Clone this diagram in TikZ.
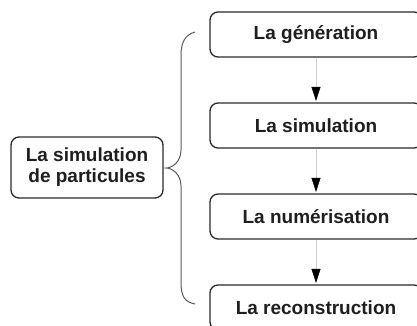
\documentclass[tikz,border=0pt]{standalone}
\usepackage{fontspec}
\setmainfont{Liberation Sans}
\usetikzlibrary{arrows.meta}
\definecolor{boxline}{HTML}{2A2A2A}
\definecolor{txt}{HTML}{1E1E1E}
\definecolor{braceline}{HTML}{5A5A5A}
\definecolor{linkline}{HTML}{CFCFCF}
\tikzset{
  stepbox/.style={draw=boxline, line width=1.3pt, rounded corners=8pt,
    minimum width=212pt, minimum height=45pt, inner sep=0pt,
    text=txt, font=\fontsize{19}{21}\selectfont\bfseries},
  mainbox/.style={draw=boxline, line width=1.3pt, rounded corners=8pt,
    minimum width=152pt, minimum height=61pt, inner sep=0pt, align=center,
    text=txt, font=\fontsize{19}{21}\selectfont\bfseries},
  link/.style={draw=linkline, line width=0.5pt,
    -{Triangle[length=14pt,width=9pt,color=black,fill=black]}, shorten >=1.5pt},
  bracestyle/.style={draw=braceline, line width=1pt}
}
\begin{document}
\begin{tikzpicture}[x=1pt,y=-1pt]
\useasboundingbox (0,0) rectangle (417,325);
\clip (0,0) rectangle (417,325);
\fill[white] (0,0) rectangle (417,325);
\node[mainbox] (main) at (87,167.5) {La simulation\\de particules};
\node[stepbox] (gen) at (316,34.5) {La génération};
\node[stepbox] (sim) at (316,125.5) {La simulation};
\node[stepbox] (num) at (316,216.5) {La numérisation};
\node[stepbox] (rec) at (316,307.5) {La reconstruction};
\draw[link] (gen) -- (sim);
\draw[link] (sim) -- (num);
\draw[link] (num) -- (rec);
\draw[bracestyle] (195,32) .. controls (185,35) and (181,42) .. (181,56)
  -- (181,150) .. controls (181,162) and (172,168) .. (166,168)
  .. controls (172,168) and (181,174) .. (181,186)
  -- (181,282) .. controls (181,297) and (185,302) .. (195,304);
\end{tikzpicture}
\end{document}
